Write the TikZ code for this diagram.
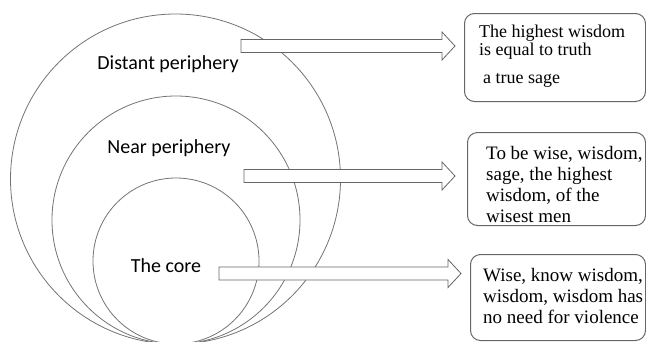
\documentclass[tikz,border=0pt]{standalone}
\usepackage{fontspec}
\setmainfont{Liberation Serif}
\newfontfamily\labelfont{Carlito}
\usetikzlibrary{calc}
\tikzstyle{ring} = [circle, draw=black!55, line width=0.8pt, inner sep=0pt]
\tikzstyle{zone} = [font=\labelfont\fontsize{20}{24}\selectfont, inner sep=0pt, anchor=base]
\tikzstyle{answer} = [rectangle, rounded corners=10pt, draw=black!60, line width=1pt, inner sep=0pt, anchor=north west]
\tikzstyle{answertext} = [align=left, inner sep=0pt, anchor=north west]
\tikzstyle{fatarrow} = [draw=black!60, line width=0.8pt, fill=white, to path={let \p1=(\tikztostart), \p2=(\tikztotarget) in (\x1,\y1+6.5pt) -- (\x2-13pt,\y1+6.5pt) -- (\x2-13pt,\y1+14pt) -- (\x2,\y1) -- (\x2-13pt,\y1-14pt) -- (\x2-13pt,\y1-6.5pt) -- (\x1,\y1-6.5pt) -- cycle}]
\begin{document}
\begin{tikzpicture}[x=1pt, y=-1pt]
		\useasboundingbox (0,0) rectangle (646,341);
		\node (far) [ring, minimum size=330pt] at (175.5,179) {};
		\node (near) [ring, minimum size=248pt] at (176,220) {};
		\node (core) [ring, minimum size=166pt] at (176,261) {};
		\node (lfar) [zone] at (168,69) {Distant periphery};
		\node (lnear) [zone] at (169,153) {Near periphery};
		\node (lcore) [zone] at (166,272) {The core};
		\node (b1) [answer, minimum width=181pt, minimum height=88pt] at (464,13) {};
		\node (b2) [answer, minimum width=178pt, minimum height=93pt] at (467,132) {};
		\node (b3) [answer, minimum width=175pt, minimum height=86pt] at (470,254) {};
		\node (t1) [answertext, font=\fontsize{18}{18.5}\selectfont] at (479,24.5) {The highest wisdom\\is equal to truth\\[9pt]\hspace{4pt}a true sage};
		\node (t2) [answertext, font=\fontsize{19}{21}\selectfont] at (486,146) {To be wise, wisdom,\\sage, the highest\\wisdom, of the\\wisest men};
		\node (t3) [answertext, font=\fontsize{19}{21}\selectfont] at (483,268) {Wise, know wisdom,\\wisdom, wisdom has\\no need for violence};
		\coordinate (a1) at (241,46);
		\coordinate (a2) at (244,176);
		\coordinate (a3) at (219,273.5);
		\draw [fatarrow] (a1) to ([xshift=-9pt]b1.west);
		\draw [fatarrow] (a2) to ([xshift=-12pt]b2.west);
		\draw [fatarrow] (a3) to ([xshift=-9pt]b3.west);
	\end{tikzpicture}
\end{document}
